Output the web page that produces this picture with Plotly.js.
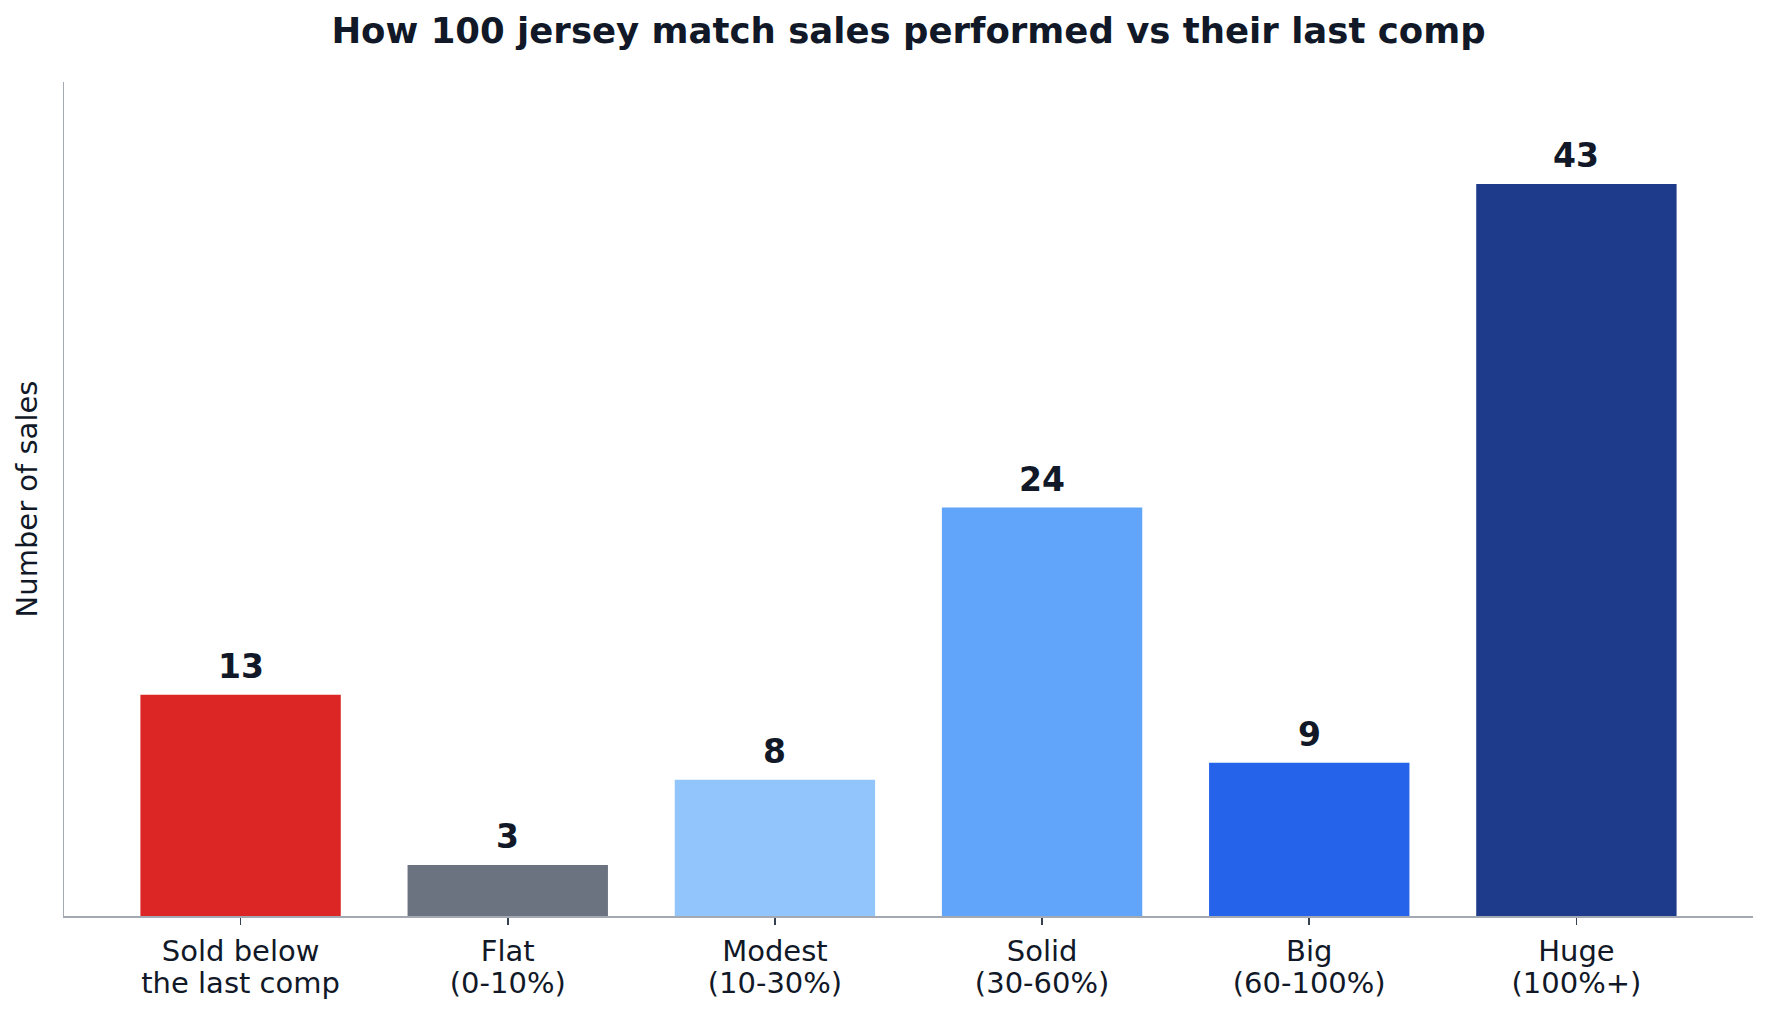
<!DOCTYPE html>
<html>
<head>
<meta charset="utf-8">
<script src="https://cdn.plot.ly/plotly-3.0.1.min.js"></script>
<style>
  html, body { margin: 0; padding: 0; background: #ffffff; }
  #chart { width: 1766px; height: 1015px; }
</style>
</head>
<body>
<div id="chart"></div>
<script>
// Distribution of 100 jersey match sales by uplift over the previous comparable sale
const categories = ["below", "flat", "modest", "solid", "big", "huge"];
const labelTop = ["Sold below", "Flat", "Modest", "Solid", "Big", "Huge"];
const labelBottom = ["the last comp", "(0-10%)", "(10-30%)", "(30-60%)", "(60-100%)", "(100%+)"];
const salesCounts = [13, 3, 8, 24, 9, 43];
const barColors = ["#dc2626", "#6b7280", "#93c5fd", "#60a5fa", "#2563eb", "#1e3a8a"];

const textColor = "#111827";
const fontFamily = "DejaVu Sans, Verdana, sans-serif";

// Two-line category labels: a smaller base size keeps the lines tight,
// while each line is drawn at the full label size.
const labelSpan = s => '<span style="font-size:29px">' + s + '</span>';
const tickLabels = labelTop.map((t, i) => labelSpan(t) + "<br>" + labelSpan(labelBottom[i]));

const trace = {
  type: "bar",
  x: categories,
  y: salesCounts,
  marker: { color: barColors, line: { width: 0 } },
  width: 0.75,
  hoverinfo: "skip"
};

// Value labels sitting just above each bar
const valueLabels = categories.map((c, i) => ({
  x: c,
  y: salesCounts[i],
  xref: "x",
  yref: "y",
  text: String(salesCounts[i]),
  showarrow: false,
  yanchor: "bottom",
  yshift: 7,
  font: { family: fontFamily, size: 33, color: textColor, weight: "bold" }
}));

const layout = {
  width: 1766,
  height: 1015,
  paper_bgcolor: "#ffffff",
  plot_bgcolor: "#ffffff",
  margin: { l: 64, r: 13, t: 82, b: 99 },
  showlegend: false,
  title: {
    text: "<b>How 100 jersey match sales performed vs their last comp</b>",
    font: { family: fontFamily, size: 35.5, color: textColor },
    x: 0.5,
    xanchor: "center",
    xref: "paper",
    y: 0.970,
    yanchor: "middle",
    yref: "container"
  },
  font: { family: fontFamily, color: textColor },
  xaxis: {
    type: "category",
    range: [-0.661, 5.661],
    tickmode: "array",
    tickvals: categories,
    ticktext: tickLabels,
    tickfont: { family: fontFamily, size: 25, color: textColor },
    ticks: "outside",
    ticklen: 7,
    tickwidth: 1.5,
    tickcolor: "#374151",
    ticklabelstandoff: 6,
    showline: true,
    linecolor: "#a3a8b3",
    linewidth: 1.5,
    showgrid: false,
    zeroline: false,
    fixedrange: true
  },
  yaxis: {
    range: [0, 49],
    showticklabels: false,
    ticks: "",
    showline: true,
    linecolor: "#a3a8b3",
    linewidth: 1.5,
    showgrid: false,
    zeroline: false,
    fixedrange: true,
    title: {
      text: "Number of sales",
      font: { family: fontFamily, size: 29, color: textColor },
      standoff: 16
    }
  },
  annotations: valueLabels,
  bargap: 0.25
};

Plotly.newPlot("chart", [trace], layout, { displayModeBar: false, staticPlot: true });
</script>
</body>
</html>
